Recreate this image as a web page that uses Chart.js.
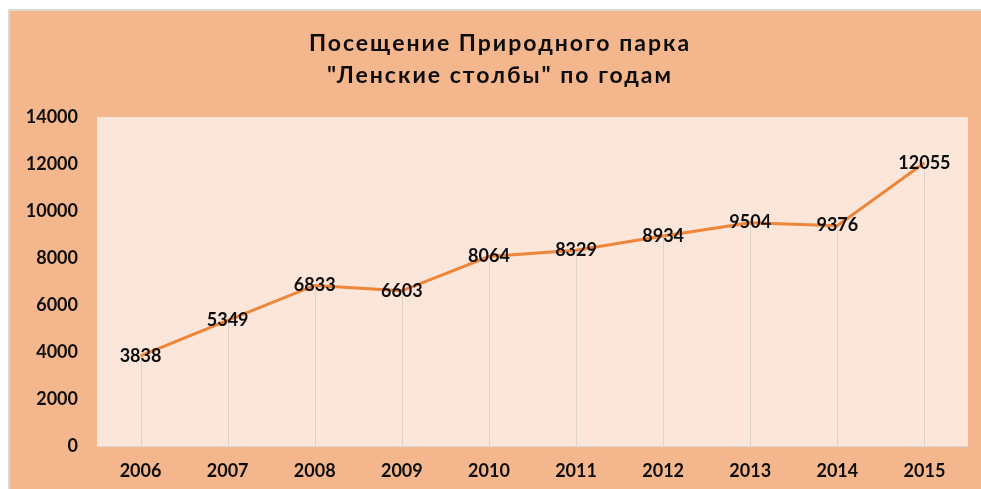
<!DOCTYPE html>
<html>
<head>
<meta charset="utf-8">
<script src="https://cdn.jsdelivr.net/npm/chart.js@4.4.1/dist/chart.umd.min.js"></script>
<style>
  html, body { margin: 0; padding: 0; background: #ffffff; }
  #wrap { width: 981px; height: 489px; }
</style>
</head>
<body>
<div id="wrap"><canvas id="c" width="981" height="489"></canvas></div>
<script>
const titleLines = ['Посещение Природного парка', '"Ленские столбы" по годам'];
const years = ['2006', '2007', '2008', '2009', '2010', '2011', '2012', '2013', '2014', '2015'];
const visitors = [3838, 5349, 6833, 6603, 8064, 8329, 8934, 9504, 9376, 12055];
const yTicks = [0, 2000, 4000, 6000, 8000, 10000, 12000, 14000];

const FONT = 'Lato, "Noto Sans", sans-serif';

const backgroundPlugin = {
  id: 'bg',
  beforeDraw(chart) {
    const ctx = chart.ctx;
    ctx.save();
    ctx.fillStyle = '#ffffff';
    ctx.fillRect(0, 0, chart.width, chart.height);
    ctx.fillStyle = '#D9D9D9';
    ctx.fillRect(8, 9, chart.width - 8, chart.height - 9);
    ctx.fillStyle = '#F4B68C';
    ctx.fillRect(10, 11, chart.width - 10, chart.height - 11);
    const a = chart.chartArea;
    ctx.fillStyle = '#FBE6D9';
    ctx.fillRect(a.left, a.top, a.right - a.left, a.bottom - a.top);
    ctx.restore();
  }
};

const titlePlugin = {
  id: 'spacedTitle',
  afterDraw(chart) {
    const ctx = chart.ctx;
    ctx.save();
    ctx.font = 'bold 23px ' + FONT;
    ctx.letterSpacing = '2px';
    ctx.fillStyle = '#0D0D0D';
    ctx.textAlign = 'center';
    ctx.textBaseline = 'alphabetic';
    const cx = 500;
    ctx.fillText(titleLines[0], cx, 51);
    ctx.fillText(titleLines[1], cx, 83);
    ctx.restore();
  }
};

const dropLinesPlugin = {
  id: 'dropLines',
  beforeDatasetsDraw(chart) {
    const ctx = chart.ctx;
    const meta = chart.getDatasetMeta(0);
    const yScale = chart.scales.y;
    ctx.save();
    ctx.strokeStyle = '#DCD3CC';
    ctx.lineWidth = 1;
    meta.data.forEach(pt => {
      const x = Math.round(pt.x) + 0.5;
      ctx.beginPath();
      ctx.moveTo(x, pt.y);
      ctx.lineTo(x, yScale.getPixelForValue(0));
      ctx.stroke();
    });
    ctx.restore();
  }
};

const labelsPlugin = {
  id: 'valueLabels',
  afterDatasetsDraw(chart) {
    const ctx = chart.ctx;
    const meta = chart.getDatasetMeta(0);
    const data = chart.data.datasets[0].data;
    ctx.save();
    ctx.font = 'bold 18px ' + FONT;
    ctx.fillStyle = '#0D0D0D';
    ctx.textAlign = 'center';
    ctx.textBaseline = 'middle';
    meta.data.forEach((pt, i) => {
      ctx.fillText(String(data[i]), pt.x, pt.y);
    });
    ctx.restore();
  }
};

new Chart(document.getElementById('c'), {
  type: 'line',
  data: {
    labels: years,
    datasets: [{
      data: visitors,
      borderColor: '#EE8538',
      borderWidth: 3,
      pointRadius: 0,
      pointHoverRadius: 0,
      tension: 0,
      fill: false
    }]
  },
  options: {
    responsive: false,
    animation: false,
    devicePixelRatio: 1,
    layout: { padding: { left: 22, right: 13, top: 117, bottom: 0 } },
    plugins: {
      legend: { display: false },
      tooltip: { enabled: false },
      title: { display: false }
    },
    scales: {
      x: {
        offset: true,
        grid: { display: false, drawTicks: false },
        border: { display: true, color: '#D9D9D9', width: 1 },
        ticks: {
          color: '#0D0D0D',
          font: { family: FONT, size: 18, weight: 'bold' },
          padding: 14,
          maxRotation: 0,
          autoSkip: false
        },
        afterFit(scale) { scale.height = 43; }
      },
      y: {
        min: 0,
        max: 14000,
        afterBuildTicks(scale) { scale.ticks = yTicks.map(v => ({ value: v })); },
        grid: { display: false, drawTicks: false },
        border: { display: false },
        ticks: {
          color: '#0D0D0D',
          font: { family: FONT, size: 18, weight: 'bold' },
          padding: 19,
          callback: (v) => String(v)
        },
        afterFit(scale) { scale.width = 75; }
      }
    }
  },
  plugins: [backgroundPlugin, dropLinesPlugin, labelsPlugin, titlePlugin]
});
</script>
</body>
</html>
